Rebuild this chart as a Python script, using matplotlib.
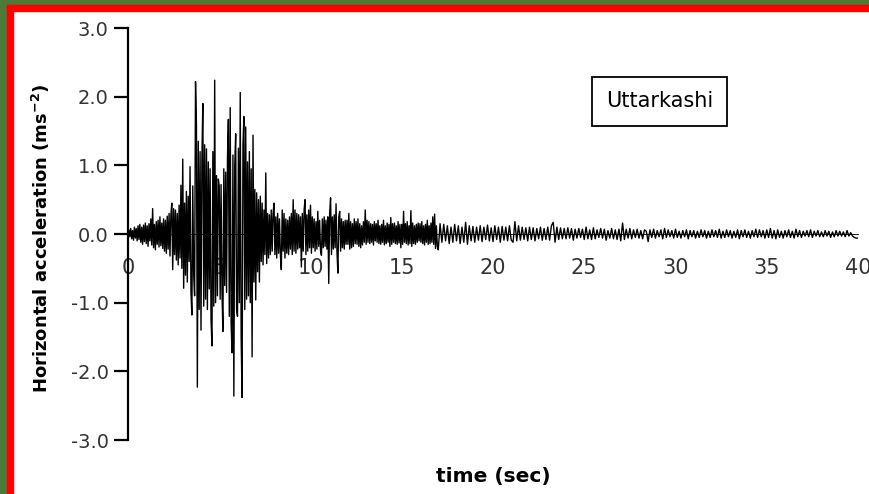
import numpy as np
import matplotlib
matplotlib.use("Agg")
import matplotlib.pyplot as plt
from matplotlib.patches import Rectangle

# horizontal acceleration (m/s^2).
# first 17 s sampled every DT_FAST s, the rest every DT_SLOW s
DT_FAST = 0.05
DT_SLOW = 0.1
acc_pre = [  # 0.00 - 2.95 s
    0.00, 0.06, -0.04, 0.08, -0.07, 0.05, -0.09, 0.10, -0.06, 0.08,
    -0.10, 0.12, -0.08, 0.14, -0.12, 0.10, -0.15, 0.13, -0.11, 0.16,
    -0.14, 0.12, -0.18, 0.15, -0.10, 0.22, -0.16, 0.37, -0.20, 0.14,
    -0.23, 0.18, -0.15, 0.20, -0.19, 0.25, -0.17, 0.16, -0.21, 0.22,
    -0.25, 0.20, -0.28, 0.26, -0.22, 0.30, -0.32, 0.28, 0.45, -0.52,
    0.37, -0.30, 0.35, -0.38, 0.30, -0.45, 0.42, -0.35, 0.71, -0.50,
]
acc_strong = [  # 3.00 - 7.95 s
    1.09, -0.79, 0.45, -0.60, 0.62, -0.70, 0.55, -0.40, 0.98, -0.85,
    -1.18, 0.70, -0.60, -0.90, 2.22, 1.60, -2.23, 1.35, -1.10, 1.20,
    -1.40, 1.10, 1.90, -1.05, 1.30, -0.95, 1.24, -1.10, 1.05, -0.80,
    0.95, -1.25, -1.63, 1.20, -1.05, 2.24, -1.00, 0.85, -0.90, 0.80,
    0.70, -0.95, 0.72, -0.85, -1.42, 0.95, -0.75, 0.90, -0.85, 1.10,
    1.67, -1.20, 1.84, -1.30, -1.73, 1.15, -2.36, 1.00, 1.46, -1.10,
    -1.20, 1.25, -1.00, 2.06, -1.50, -2.38, 1.30, 1.71, -1.10, 1.56,
    -0.95, 1.05, -0.90, 1.20, -1.00, 0.95, -1.79, 1.44, -0.70, 0.65,
    -0.96, 0.60, -0.55, 0.50, -0.70, 0.55, -0.40, 0.45, -0.45, 0.35,
    -0.30, 0.89, -0.43, 0.30, -0.35, 0.28, -0.30, 0.35, -0.25, 0.30,
]
acc_coda = [  # 8.00 - 16.95 s
    0.45, -0.30, 0.25, -0.35, 0.30, -0.28, 0.22, -0.30, -0.52, 0.35,
    -0.25, 0.30, -0.35, 0.22, -0.28, 0.20, -0.30, 0.25, -0.22, 0.30,
    -0.30, 0.50, -0.25, 0.35, -0.28, 0.30, -0.22, 0.28, -0.20, 0.25,
    -0.48, 0.30, -0.25, 0.35, 0.50, -0.30, 0.28, -0.25, 0.35, -0.20,
    0.42, -0.28, 0.25, -0.20, 0.22, -0.25, 0.18, -0.22, 0.33, -0.18,
    0.20, -0.25, -0.31, 0.22, -0.20, 0.25, -0.18, 0.20, -0.22, 0.25,
    -0.72, 0.30, 0.53, -0.30, 0.25, -0.22, 0.28, -0.20, 0.44, -0.25,
    -0.57, 0.25, 0.33, -0.25, 0.22, -0.20, 0.18, -0.22, 0.20, -0.15,
    0.20, -0.15, 0.30, -0.22, 0.18, -0.20, 0.15, -0.18, 0.22, -0.14,
    0.18, -0.15, 0.22, -0.18, 0.15, -0.20, 0.12, -0.16, 0.18, -0.12,
    0.35, -0.15, 0.20, -0.12, 0.18, -0.14, 0.15, -0.12, 0.14, -0.16,
    0.18, -0.10, 0.15, -0.12, 0.20, -0.14, 0.12, -0.15, 0.14, -0.12,
    0.20, -0.16, 0.12, -0.14, 0.16, -0.12, 0.14, -0.18, 0.24, -0.15,
    0.15, -0.12, 0.16, -0.14, 0.12, -0.15, 0.18, -0.13, 0.14, -0.20,
    0.14, -0.15, 0.33, -0.12, 0.15, -0.14, 0.18, -0.16, 0.12, -0.14,
    0.34, -0.18, 0.16, -0.14, 0.12, -0.15, 0.14, -0.12, 0.16, -0.10,
    0.15, -0.12, 0.18, -0.14, 0.12, -0.16, 0.14, -0.12, 0.20, -0.15,
    0.12, -0.14, 0.16, -0.12, 0.25, -0.15, 0.29, -0.21, 0.12, -0.18,
]
acc_tail = [  # 17.0 - 40.0 s
    -0.23, 0.15, -0.12, 0.14, -0.10, 0.12, -0.14, 0.10, -0.12, 0.14,
    -0.10, 0.12, -0.14, 0.10, -0.12, 0.17, -0.15, 0.12, -0.10, 0.11,
    -0.12, 0.10, -0.09, 0.12, -0.11, 0.10, -0.08, 0.13, -0.10, 0.09,
    -0.11, 0.12, -0.08, 0.10, -0.12, 0.11, -0.09, 0.10, -0.10, 0.12,
    -0.09, -0.12, 0.18, -0.10, 0.12, -0.09, 0.10, -0.08, 0.09, -0.10,
    0.10, -0.08, 0.09, -0.10, 0.08, -0.07, 0.10, -0.09, 0.08, -0.08,
    0.10, -0.09, 0.12, 0.17, -0.12, 0.10, -0.08, 0.09, -0.07, 0.08,
    -0.07, 0.09, -0.06, 0.08, -0.09, 0.07, -0.06, 0.08, -0.05, 0.07,
    -0.08, 0.10, -0.07, 0.06, -0.08, 0.09, -0.07, 0.06, -0.05, 0.08,
    -0.06, 0.07, -0.09, 0.05, -0.06, 0.08, -0.07, 0.06, -0.08, 0.07,
    -0.10, 0.16, -0.08, 0.07, -0.06, 0.08, -0.07, 0.06, -0.05, 0.07,
    -0.06, 0.05, -0.07, 0.06, 0.04, -0.11, 0.06, -0.05, 0.07, -0.06,
    0.05, -0.04, 0.06, -0.07, 0.08, -0.05, 0.06, -0.04, 0.05, -0.06,
    0.07, -0.05, 0.04, -0.06, 0.05, -0.04, 0.06, -0.07, 0.05, -0.04,
    0.05, -0.06, 0.04, -0.05, 0.06, -0.04, 0.05, -0.06, 0.04, -0.05,
    0.06, -0.04, 0.05, -0.05, 0.07, -0.06, 0.04, -0.05, 0.06, -0.04,
    0.05, -0.06, 0.04, -0.05, 0.06, -0.07, 0.05, -0.04, 0.06, -0.05,
    0.04, -0.06, 0.05, -0.04, 0.07, -0.05, 0.06, -0.04, 0.05, -0.06,
    0.06, -0.05, 0.08, -0.06, 0.05, -0.07, 0.06, -0.05, 0.04, -0.06,
    0.05, -0.04, 0.06, -0.05, 0.04, -0.06, 0.07, -0.04, 0.05, -0.05,
    0.04, -0.03, 0.05, -0.04, 0.06, -0.05, 0.04, -0.03, 0.05, -0.04,
    0.03, -0.04, 0.05, -0.03, 0.04, -0.05, 0.03, -0.04, 0.05, -0.03,
    0.04, -0.03, 0.03, -0.04, 0.05, -0.03, 0.02, -0.03, -0.05, -0.06,
    -0.06,
]

y_ticks = [-3, -2, -1, 0, 1, 2, 3]
x_ticks = [0, 5, 10, 15, 20, 25, 30, 35, 40]
station = "Uttarkashi"

acc_fast = np.array(acc_pre + acc_strong + acc_coda)
t_fast = np.arange(acc_fast.size) * DT_FAST
t_slow = t_fast.size * DT_FAST + np.arange(len(acc_tail)) * DT_SLOW
t = np.concatenate([t_fast, t_slow])
acc = np.concatenate([acc_fast, acc_tail])

plt.rcParams['font.family'] = ['DejaVu Sans']

fig = plt.figure(figsize=(8.69, 4.94), dpi=100)
fig.patch.set_facecolor('white')

# slide frame: green outer band, red inner band (top and left only)
W, H = 869.0, 494.0
green, red = '#4e7a38', '#ff0000'
fig.patches.extend([
    Rectangle((0, 0), 7 / W, 1, color=green, transform=fig.transFigure),
    Rectangle((0, 1 - 5 / H), 1, 5 / H, color=green, transform=fig.transFigure),
    Rectangle((7 / W, 0), 5.5 / W, 1 - 5 / H, color=red, transform=fig.transFigure),
    Rectangle((7 / W, 1 - 11 / H), 1, 6 / H, color=red, transform=fig.transFigure),
])

ax = fig.add_axes([128 / W, 1 - 440 / H, 730 / W, 412 / H])
ax.plot(t, acc, color='black', lw=1.0)

ax.set_xlim(0, 40)
ax.set_ylim(-3, 3)
for s in ['top', 'right']:
    ax.spines[s].set_visible(False)
ax.spines['left'].set_linewidth(1.6)
ax.spines['bottom'].set_position(('data', 0))
ax.spines['bottom'].set_linewidth(0.6)

ax.set_yticks(y_ticks)
ax.set_yticklabels([f'{v:.1f}' for v in y_ticks])
ax.set_xticks(x_ticks)
ax.set_xticklabels([str(v) for v in x_ticks])
ax.tick_params(axis='y', direction='out', length=10, width=1.6, pad=4,
               labelsize=14, labelcolor='#333333')
ax.tick_params(axis='x', length=0, pad=17, labelsize=15, labelcolor='#333333')

ax.set_ylabel(r'Horizontal acceleration (ms$^{\mathregular{-2}}$)',
              fontsize=13, fontweight='bold')
ax.yaxis.set_label_coords(-0.104, 0.49)
ax.set_xlabel('time (sec)', fontsize=14.5, fontweight='bold')
ax.xaxis.set_label_coords(0.5, -0.065)

# station label box
ax.add_patch(Rectangle((25.42, 1.572), 7.40, 0.713, fill=False,
                       ec='black', lw=1.3))
ax.text(29.12, 1.93, station, ha='center', va='center', fontsize=15)

fig.savefig('out.png', dpi=100)
